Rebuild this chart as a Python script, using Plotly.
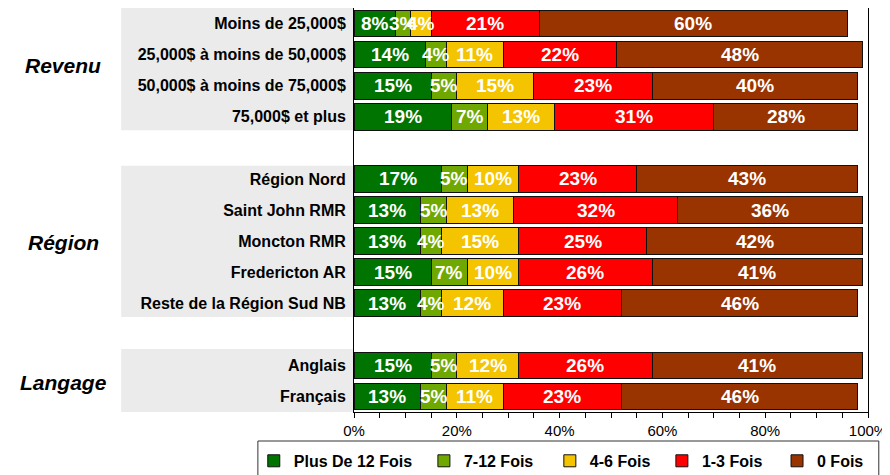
import plotly.graph_objects as go

# ---------------- data ----------------
categories = [
    "Moins de 25,000$",
    "25,000$ à moins de 50,000$",
    "50,000$ à moins de 75,000$",
    "75,000$ et plus",
    "Région Nord",
    "Saint John RMR",
    "Moncton RMR",
    "Fredericton AR",
    "Reste de la Région Sud NB",
    "Anglais",
    "Français",
]
# display order including blank spacer rows between groups
category_order = categories[:4] + [" "] + categories[4:9] + ["  "] + categories[9:]

series_names = ["Plus De 12 Fois", "7-12 Fois", "4-6 Fois", "1-3 Fois", "0 Fois"]
plus_12 = [8, 14, 15, 19, 17, 13, 13, 15, 13, 15, 13]
fois_7_12 = [3, 4, 5, 7, 5, 5, 4, 7, 4, 5, 5]
fois_4_6 = [4, 11, 15, 13, 10, 13, 15, 10, 12, 12, 11]
fois_1_3 = [21, 22, 23, 31, 23, 32, 25, 26, 23, 26, 23]
fois_0 = [60, 48, 40, 28, 43, 36, 42, 41, 46, 41, 46]
series_values = [plus_12, fois_7_12, fois_4_6, fois_1_3, fois_0]

group_labels = ["Revenu", "Région", "Langage"]

tick_vals = [0, 20, 40, 60, 80, 100]
tick_text = ["0%", "20%", "40%", "60%", "80%", "100%"]

# ---------------- style ----------------
colors = ["#007400", "#6fa800", "#f5c400", "#ff0000", "#993300"]
FONT = "Arial, Liberation Sans, sans-serif"

fig = go.Figure()
legend_ids = ["legend", "legend2", "legend3", "legend4", "legend5"]
for name, vals, col, lg in zip(series_names, series_values, colors, legend_ids):
    fig.add_trace(go.Bar(
        y=categories, x=vals, name=name, orientation="h",
        marker=dict(color=col, line=dict(color="#111111", width=1)),
        width=0.86, textposition="none",
        legend=lg, hoverinfo="skip",
    ))

# value labels centred on each stacked segment
annotations = []
left = [0] * len(categories)
for vals in series_values:
    for i, (cat, v) in enumerate(zip(categories, vals)):
        annotations.append(dict(
            text=f"{v}%", x=left[i] + v / 2, y=cat, xref="x", yref="y",
            showarrow=False, xanchor="center", yanchor="middle",
            font=dict(family=FONT, size=19, color="white", weight="bold"),
        ))
        left[i] += v

# gray label panels behind category labels
shapes = []
for y0, y1 in [(-0.5, 3.43), (4.58, 9.44), (10.47, 12.5)]:
    shapes.append(dict(type="rect", xref="paper", yref="y", x0=-0.453, x1=0,
                       y0=y0, y1=y1, fillcolor="#ebebeb", line=dict(width=0),
                       layer="below"))
# legend frame
shapes.append(dict(type="rect", xref="paper", yref="paper", x0=-0.187, x1=1.021,
                   y0=-0.0718, y1=-0.2, fillcolor="rgba(0,0,0,0)",
                   line=dict(color="#333333", width=1)))

for lbl, yy in zip(group_labels, [1.35, 7.05, 11.55]):
    annotations.append(dict(text=lbl, xref="paper", yref="y", x=-0.566, y=yy,
                            showarrow=False, xanchor="center", yanchor="middle",
                            font=dict(family=FONT, size=21, color="black",
                                      weight="bold", style="italic")))

legend_x = [-0.195, 0.136, 0.381, 0.599, 0.823]
layout_legends = {}
for lg, lx in zip(legend_ids, legend_x):
    layout_legends[lg] = dict(
        x=lx, y=-0.121, xanchor="left", yanchor="middle", orientation="h",
        bgcolor="rgba(0,0,0,0)", borderwidth=0,
        font=dict(family=FONT, size=16, color="black", weight="bold"),
    )

# the page adds an 8px body margin, so margins are offset by 8px
fig.update_layout(
    width=890, height=475,
    margin=dict(l=346, r=30, t=0, b=71, autoexpand=False),
    paper_bgcolor="white", plot_bgcolor="white",
    barmode="stack",
    showlegend=True,
    shapes=shapes, annotations=annotations,
    font=dict(family=FONT, color="black"),
    xaxis=dict(
        range=[0, 100], tickvals=tick_vals, ticktext=tick_text,
        ticks="outside", ticklen=5, tickcolor="black", tickwidth=1,
        minor=dict(dtick=5, ticks="outside", ticklen=5, tickcolor="black"),
        showgrid=False, zeroline=False, automargin=False,
        showline=True, linecolor="black", linewidth=1, mirror=True,
        tickfont=dict(family=FONT, size=15, color="black"),
        fixedrange=True,
    ),
    yaxis=dict(
        type="category", categoryorder="array", categoryarray=category_order,
        range=[12.5, -0.5], showgrid=False, zeroline=False, ticks="",
        showline=True, linecolor="black", linewidth=1, mirror=True,
        tickfont=dict(family=FONT, size=16, color="black", weight="bold"),
        ticklabelstandoff=4, fixedrange=True, automargin=False,
    ),
    **layout_legends,
)

fig.write_html("out.html")
